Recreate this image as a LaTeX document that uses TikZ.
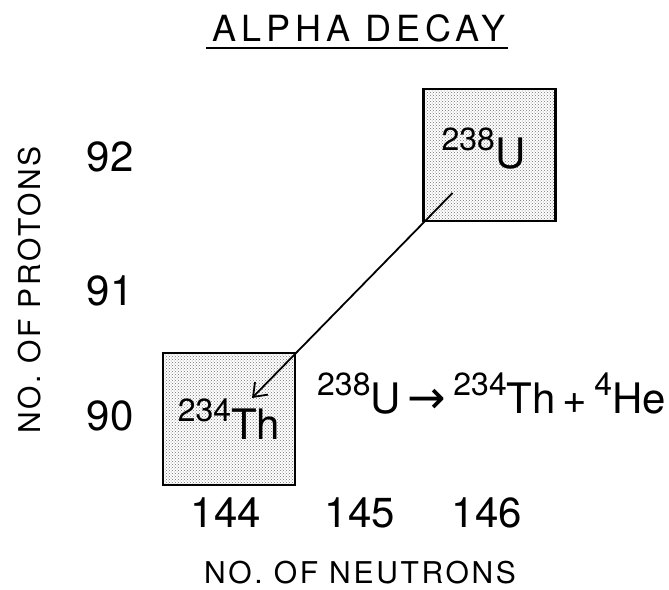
\documentclass[tikz,border=0pt]{standalone}
\usepackage{fontspec}
\setmainfont{TeX Gyre Heros}
\newfontfamily\arrowfont{DejaVu Sans}
\usepackage{tikz}
\usetikzlibrary{arrows.meta,calc,patterns}
\newcommand\isotope[2]{{\fontsize{32}{32}\selectfont\raisebox{18pt}{#1}}#2}
\tikzset{
  >={Straight Barb[length=12pt,width=18pt,line width=1.8pt]},
  cell/.style={draw,line width=2.8pt,minimum size=132pt,inner sep=0pt,pattern=crosshatch dots,pattern color=black!55,font=\fontsize{42}{42}\selectfont},
  num/.style={font=\fontsize{42}{42}\selectfont,inner sep=0pt},
  lab/.style={font=\fontsize{30}{30}\selectfont\addfontfeatures{LetterSpace=9},inner sep=0pt},
  title/.style={font=\fontsize{36}{36}\selectfont\addfontfeatures{LetterSpace=14},inner sep=0pt},
  decay/.style={->,line width=1.8pt},
}
\begin{document}
\begin{tikzpicture}[x=1pt,y=-1pt]
\useasboundingbox (0,0) rectangle (669,589);
% title
\node[title] (title) at (359,28) {ALPHA DECAY};
\draw[line width=2pt] ([xshift=-6pt,yshift=-6pt]title.south west) -- ([xshift=2pt,yshift=-6pt]title.south east);
% the two nuclei
\node[cell,text depth=14pt] (U) at (489.5,155) {\hspace*{-12pt}\isotope{238}{U}};
\node[cell] (Th) at (229,419) {\isotope{234}{Th}};
\draw[decay] ($(U.center)+(-37,38)$) -- ($(Th.center)+(23,-21)$);
% axes
\foreach \n/\y in {92/157,91/291,90/416}
  \node[num] (p\n) at (110,\y) {\n};
\foreach \n/\x in {144/226,145/360,146/487}
  \node[num] (n\n) at (\x,513) {\n};
\node[lab,rotate=90] (protons) at (30,290) {NO. OF PROTONS};
\node[lab] (neutrons) at (360,573) {NO. OF NEUTRONS};
% reaction
\node[num,anchor=base west] (eq) at (317,413) {\isotope{238}{U}\,{\arrowfont\fontsize{46}{46}\selectfont →}\,\isotope{234}{Th}\,+\,\isotope{4}{He}};
\end{tikzpicture}
\end{document}
